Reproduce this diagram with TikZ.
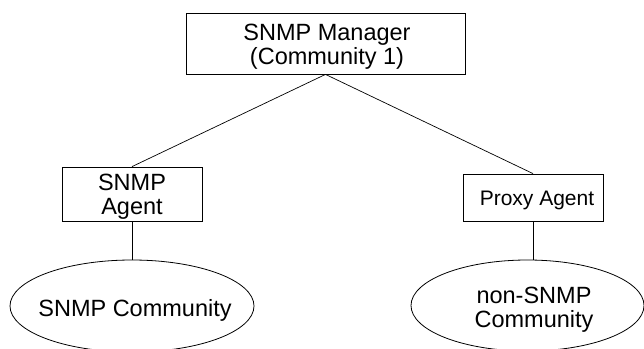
\documentclass[tikz,border=0pt]{standalone}
\usepackage{fontspec}
\setmainfont{Liberation Sans}
\usetikzlibrary{shapes.geometric}
\begin{document}
\begin{tikzpicture}[x=1pt,y=-1pt,
  box/.style={draw,rectangle,line width=0.8pt,inner sep=0pt},
  comm/.style={draw,ellipse,line width=0.8pt,inner sep=0pt},
  lbl/.style={inner sep=0pt,align=center,font=\fontsize{23.5}{24.5}\selectfont},
  link/.style={line width=0.7pt}]
\useasboundingbox (0,0) rectangle (644,348);
\node[box,minimum width=279pt,minimum height=61pt] (mgr) at (325.5,43.5) {};
\node[lbl] (mgrtxt) at (327,46.5) {SNMP Manager\\(Community 1)};
\node[box,minimum width=140pt,minimum height=54pt] (agent) at (132,194) {};
\node[lbl] (agenttxt) at (132,196.5) {SNMP\\Agent};
\node[box,minimum width=140pt,minimum height=47pt] (proxy) at (533,197.5) {};
\node[lbl,font=\fontsize{21}{24}\selectfont] (proxytxt) at (537,200) {Proxy Agent};
\node[comm,minimum width=244pt,minimum height=92pt] (c1) at (132,306) {};
\node[lbl] (c1txt) at (135,310) {SNMP Community};
\node[comm,minimum width=233pt,minimum height=91pt] (c2) at (527.5,305.5) {};
\node[lbl] (c2txt) at (534,309.5) {non-SNMP\\Community};
\draw[link] (mgr.south) -- (agent.north);
\draw[link] (mgr.south) -- (proxy.north);
\draw[link] (agent.south) -- (c1.north);
\draw[link] (proxy.south) -- (proxy.south |- c2.north);
\end{tikzpicture}
\end{document}
